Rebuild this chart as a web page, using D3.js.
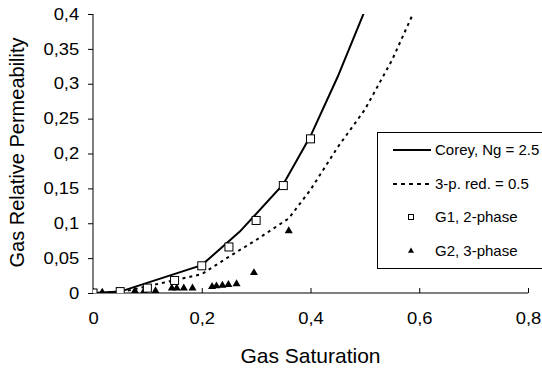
<!DOCTYPE html>
<html>
<head>
<meta charset="utf-8">
<script src="https://cdn.jsdelivr.net/npm/d3@7"></script>
<style>
  body { margin: 0; background: #fff; }
  svg { display: block; font-family: "Liberation Sans", Arial, sans-serif; }
</style>
</head>
<body>
<svg width="542" height="370"></svg>
<script>
// G1, 2-phase (squares)
const g1Sg = [0, 0.05, 0.1, 0.15, 0.2, 0.25, 0.3, 0.35, 0.4];
const g1Krg = [0, 0.002, 0.007, 0.018, 0.039, 0.066, 0.104, 0.154, 0.221];

// G2, 3-phase (triangles)
const g2Sg = [0.017, 0.077, 0.094, 0.115, 0.145, 0.154, 0.167, 0.183, 0.219, 0.227, 0.238, 0.249, 0.264, 0.296, 0.36];
const g2Krg = [0.001, 0.003, 0.003, 0.003, 0.007, 0.007, 0.007, 0.007, 0.009, 0.010, 0.011, 0.012, 0.013, 0.029, 0.089];

// Corey, Ng = 2.5
const coreySg = [0, 0.05, 0.2, 0.27, 0.35, 0.4, 0.45, 0.5];
const coreyKrg = [0, 0.002, 0.04, 0.088, 0.156, 0.225, 0.31, 0.405];

// 3-p. red. = 0.5
const redSg = [0, 0.05, 0.2, 0.25, 0.3, 0.36, 0.4, 0.45, 0.5, 0.55, 0.6];
const redKrg = [0, 0.001, 0.027, 0.052, 0.076, 0.107, 0.148, 0.209, 0.263, 0.334, 0.42];

const xTicks = [0, 0.2, 0.4, 0.6, 0.8];
const yTicks = [0, 0.05, 0.1, 0.15, 0.2, 0.25, 0.3, 0.35, 0.4];

const legendLabels = ["Corey, Ng = 2.5", "3-p. red. = 0.5", "G1, 2-phase", "G2, 3-phase"];

const zip = (xs, ys) => xs.map((x, i) => [x, ys[i]]);
const fmt = v => String(+v.toFixed(2)).replace(".", ",");

/* -----------------------------
   Setup
----------------------------- */

const svg = d3.select("svg");

const x = d3.scaleLinear().domain([0, 0.8]).range([93, 528]);
const y = d3.scaleLinear().domain([0, 0.4]).range([293, 14]);

svg.append("clipPath").attr("id", "plot")
  .append("rect")
  .attr("x", x(0)).attr("y", y(0.4))
  .attr("width", x(0.8) - x(0)).attr("height", y(0) - y(0.4));

/* -----------------------------
   Axes
----------------------------- */

const yAxis = svg.append("g")
  .attr("transform", `translate(${x(0)},0)`)
  .call(d3.axisLeft(y).tickValues(yTicks).tickFormat(fmt).tickSize(5).tickPadding(7));

const xAxis = svg.append("g")
  .attr("transform", `translate(0,${y(0)})`)
  .call(d3.axisBottom(x).tickValues(xTicks).tickFormat(fmt).tickSize(-5).tickPadding(20));

[yAxis, xAxis].forEach(a => {
  a.select(".domain").attr("stroke", "#000");
  a.selectAll(".tick line").attr("stroke", "#000");
  // labels in the original are a bit wide, stretch them sideways
  a.selectAll(".tick text").attr("font-size", 16).attr("fill", "#000")
    .attr("font-family", "Liberation Sans, Arial, sans-serif")
    .attr("transform", "scale(1.15,1)");
});
yAxis.select(".domain").attr("d", `M0,${y(0)}V${y(0.4)}`);
xAxis.select(".domain").attr("d", `M${x(0)},0H${x(0.8)}`);

svg.append("text")
  .attr("x", x(0.4)).attr("y", 363)
  .attr("text-anchor", "middle").attr("font-size", 21)
  .text("Gas Saturation");

svg.append("text")
  .attr("transform", `translate(24,${(y(0) + y(0.4)) / 2 - 1}) rotate(-90)`)
  .attr("text-anchor", "middle").attr("font-size", 20)
  .text("Gas Relative Permeability");

/* -----------------------------
   Lines and markers
----------------------------- */

const line = d3.line().x(d => x(d[0])).y(d => y(d[1]));
const plot = svg.append("g").attr("clip-path", "url(#plot)");

plot.append("path")
  .attr("d", line(zip(redSg, redKrg)))
  .attr("fill", "none").attr("stroke", "#000")
  .attr("stroke-width", 2).attr("stroke-dasharray", "3,4");

plot.append("path")
  .attr("d", line(zip(coreySg, coreyKrg)))
  .attr("fill", "none").attr("stroke", "#000")
  .attr("stroke-width", 2);

const tri = d3.symbol().type(d3.symbolTriangle).size(28);

plot.selectAll(".g2")
  .data(zip(g2Sg, g2Krg))
  .enter().append("path")
  .attr("transform", d => `translate(${x(d[0])},${y(d[1])})`)
  .attr("d", tri).attr("fill", "#000");

plot.selectAll(".g1")
  .data(zip(g1Sg, g1Krg))
  .enter().append("rect")
  .attr("x", d => x(d[0]) - 4).attr("y", d => y(d[1]) - 4)
  .attr("width", 8).attr("height", 8)
  .attr("fill", "#fff").attr("stroke", "#000");

/* -----------------------------
   Legend
----------------------------- */

const lg = svg.append("g");
lg.append("rect")
  .attr("x", 377.5).attr("y", 132.5).attr("width", 180).attr("height", 136)
  .attr("fill", "#fff").attr("stroke", "#000");

const rowY = [150, 184, 217, 251];

legendLabels.forEach((t, i) => {
  lg.append("text")
    .attr("x", 435).attr("y", rowY[i]).attr("dy", "0.35em")
    .attr("font-size", 15).text(t);
});

lg.append("line").attr("x1", 393).attr("x2", 431).attr("y1", rowY[0]).attr("y2", rowY[0])
  .attr("stroke", "#000").attr("stroke-width", 2);
lg.append("line").attr("x1", 393).attr("x2", 433).attr("y1", rowY[1]).attr("y2", rowY[1])
  .attr("stroke", "#000").attr("stroke-width", 2).attr("stroke-dasharray", "4,4");
lg.append("rect").attr("x", 408.5).attr("y", rowY[2] - 2.5).attr("width", 5).attr("height", 5)
  .attr("fill", "#fff").attr("stroke", "#000");
lg.append("path").attr("transform", `translate(411,${rowY[3]})`)
  .attr("d", d3.symbol().type(d3.symbolTriangle).size(16)).attr("fill", "#000");
</script>
</body>
</html>
